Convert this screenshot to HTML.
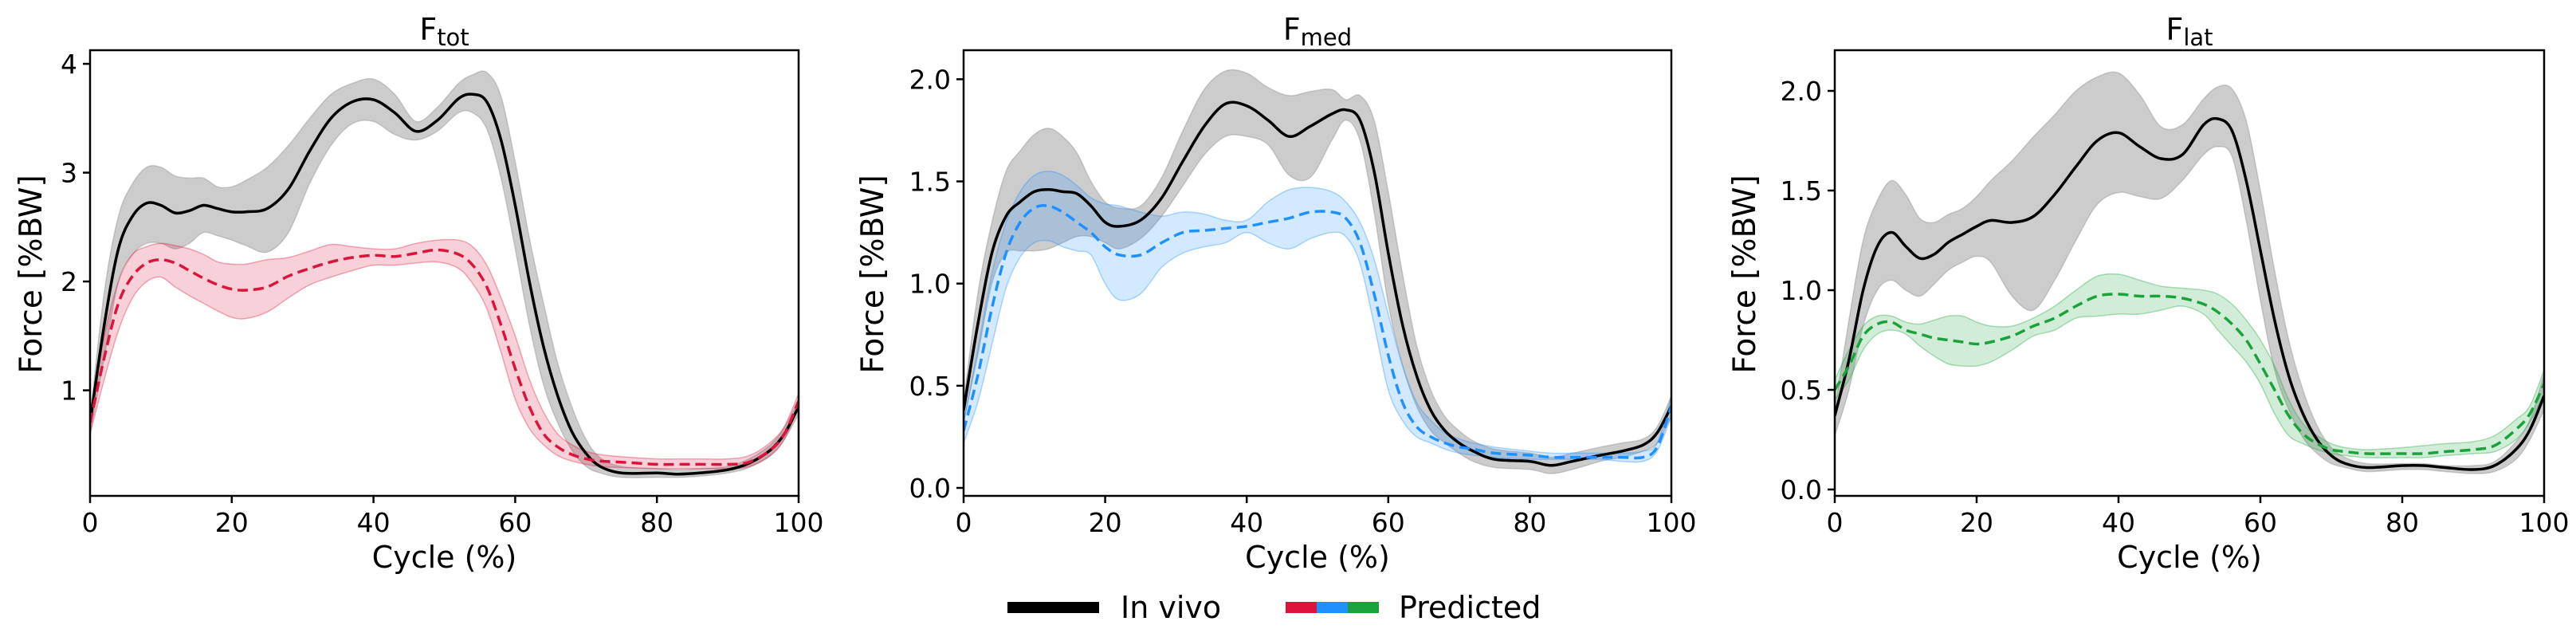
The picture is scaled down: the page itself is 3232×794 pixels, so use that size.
<!DOCTYPE html>
<html><head><meta charset="utf-8"><style>
html,body{margin:0;padding:0;background:#fff}
svg{display:block}
text{font-family:"DejaVu Sans","Liberation Sans",sans-serif;fill:#000}
</style></head><body>
<svg id="chart" width="3232" height="794" viewBox="0 0 3232 794" xmlns="http://www.w3.org/2000/svg"></svg>
<script>
const cycle = [0,2,4,6,8,10,12,14,16,18,20,22,25,28,31,34,37,40,43,46,49,52,54,56,58,60,62,64,66,68,70,72,75,80,83,86,90,93,96,98,100];
const xTicks = [0,20,40,60,80,100];
// Ftot
const totVivoMean = [0.7,1.6,2.3,2.6,2.72,2.7,2.63,2.65,2.7,2.67,2.64,2.64,2.67,2.85,3.2,3.5,3.65,3.67,3.55,3.38,3.48,3.68,3.72,3.65,3.3,2.7,2.0,1.4,0.95,0.62,0.42,0.3,0.24,0.24,0.23,0.24,0.27,0.33,0.45,0.6,0.85];
const totVivoHi = [0.75,1.9,2.6,2.9,3.05,3.05,2.97,2.95,2.95,2.87,2.87,2.93,3.05,3.25,3.5,3.72,3.82,3.86,3.72,3.47,3.6,3.82,3.9,3.92,3.7,3.1,2.4,1.8,1.25,0.85,0.55,0.38,0.3,0.28,0.27,0.28,0.3,0.37,0.5,0.66,0.92];
const totVivoLo = [0.6,1.3,2.0,2.25,2.35,2.35,2.3,2.35,2.45,2.42,2.38,2.33,2.27,2.45,2.9,3.25,3.45,3.47,3.35,3.3,3.38,3.55,3.55,3.4,2.95,2.3,1.6,1.05,0.7,0.45,0.3,0.24,0.2,0.2,0.2,0.21,0.24,0.29,0.4,0.55,0.78];
const totPredMean = [0.7,1.3,1.8,2.05,2.17,2.2,2.17,2.1,2.03,1.97,1.93,1.92,1.95,2.05,2.12,2.18,2.22,2.24,2.23,2.26,2.29,2.25,2.15,1.95,1.6,1.2,0.85,0.6,0.48,0.41,0.37,0.35,0.34,0.32,0.32,0.32,0.32,0.34,0.45,0.6,0.9];
const totPredHi = [0.8,1.5,2.0,2.25,2.32,2.35,2.33,2.3,2.25,2.18,2.16,2.16,2.2,2.22,2.28,2.34,2.32,2.3,2.3,2.35,2.38,2.38,2.32,2.15,1.85,1.5,1.1,0.8,0.6,0.5,0.44,0.41,0.39,0.37,0.37,0.37,0.37,0.4,0.52,0.67,0.97];
const totPredLo = [0.6,1.1,1.55,1.85,2.0,2.04,1.95,1.87,1.8,1.73,1.67,1.66,1.72,1.85,1.97,2.04,2.1,2.15,2.15,2.17,2.18,2.12,1.98,1.75,1.35,0.92,0.65,0.5,0.4,0.35,0.32,0.3,0.29,0.28,0.28,0.28,0.28,0.3,0.4,0.55,0.85];
const totYTicks = [1,2,3,4];
// Fmed
const medVivoMean = [0.38,0.8,1.15,1.33,1.4,1.45,1.46,1.45,1.44,1.38,1.3,1.28,1.31,1.42,1.6,1.77,1.88,1.87,1.8,1.72,1.77,1.83,1.85,1.8,1.55,1.15,0.8,0.55,0.38,0.28,0.22,0.18,0.14,0.13,0.11,0.13,0.16,0.18,0.21,0.27,0.4];
const medVivoHi = [0.42,0.95,1.3,1.55,1.65,1.73,1.76,1.72,1.64,1.5,1.4,1.37,1.38,1.52,1.75,1.95,2.04,2.03,1.96,1.92,1.94,1.95,1.9,1.92,1.8,1.45,1.05,0.7,0.48,0.35,0.28,0.23,0.19,0.17,0.15,0.17,0.2,0.22,0.24,0.3,0.45];
const medVivoLo = [0.32,0.65,1.0,1.15,1.16,1.16,1.17,1.2,1.23,1.23,1.2,1.17,1.22,1.33,1.48,1.63,1.72,1.72,1.68,1.53,1.52,1.7,1.8,1.7,1.35,0.9,0.6,0.4,0.28,0.22,0.17,0.13,0.1,0.09,0.07,0.09,0.13,0.15,0.18,0.22,0.35];
const medPredMean = [0.28,0.55,0.88,1.15,1.3,1.37,1.38,1.35,1.3,1.25,1.18,1.14,1.14,1.2,1.25,1.26,1.27,1.28,1.3,1.32,1.35,1.35,1.32,1.2,0.95,0.65,0.42,0.3,0.25,0.22,0.2,0.19,0.17,0.16,0.15,0.15,0.15,0.15,0.15,0.2,0.4];
const medPredHi = [0.32,0.68,1.05,1.3,1.45,1.53,1.55,1.53,1.48,1.42,1.39,1.38,1.35,1.33,1.35,1.34,1.31,1.31,1.4,1.46,1.47,1.45,1.4,1.3,1.12,0.85,0.6,0.42,0.33,0.27,0.24,0.22,0.2,0.18,0.17,0.17,0.17,0.17,0.18,0.22,0.45];
const medPredLo = [0.22,0.42,0.7,0.98,1.13,1.2,1.21,1.18,1.16,1.14,1.0,0.92,0.95,1.08,1.15,1.18,1.2,1.25,1.2,1.17,1.22,1.25,1.23,1.1,0.8,0.48,0.33,0.25,0.22,0.19,0.17,0.16,0.15,0.14,0.14,0.14,0.14,0.13,0.13,0.18,0.35];
const medYTicks = ["0.0","0.5","1.0","1.5","2.0"];
// Flat
const latVivoMean = [0.37,0.65,1.0,1.22,1.29,1.22,1.16,1.18,1.24,1.28,1.32,1.35,1.34,1.37,1.48,1.62,1.75,1.79,1.72,1.66,1.68,1.83,1.86,1.8,1.55,1.2,0.85,0.57,0.38,0.25,0.17,0.13,0.11,0.12,0.12,0.11,0.1,0.12,0.2,0.3,0.47];
const latVivoHi = [0.4,0.85,1.25,1.45,1.55,1.48,1.36,1.34,1.38,1.41,1.47,1.55,1.65,1.77,1.88,2.0,2.07,2.09,1.98,1.82,1.83,1.96,2.02,2.01,1.85,1.5,1.1,0.75,0.5,0.32,0.21,0.16,0.13,0.13,0.13,0.12,0.12,0.14,0.24,0.35,0.58];
const latVivoLo = [0.27,0.5,0.82,1.0,1.05,1.0,0.97,1.03,1.1,1.14,1.17,1.14,0.97,0.9,1.05,1.25,1.43,1.49,1.47,1.46,1.55,1.68,1.72,1.67,1.35,0.95,0.6,0.4,0.26,0.18,0.13,0.11,0.09,0.1,0.1,0.09,0.08,0.09,0.15,0.25,0.4];
const latPredMean = [0.5,0.62,0.77,0.83,0.84,0.8,0.78,0.76,0.75,0.74,0.73,0.74,0.77,0.82,0.86,0.92,0.97,0.98,0.97,0.97,0.96,0.93,0.89,0.83,0.75,0.63,0.5,0.37,0.28,0.23,0.2,0.19,0.18,0.18,0.18,0.19,0.2,0.22,0.3,0.38,0.53];
const latPredHi = [0.55,0.7,0.82,0.87,0.87,0.84,0.83,0.85,0.87,0.87,0.84,0.82,0.82,0.86,0.92,1.0,1.07,1.08,1.05,1.02,1.01,1.0,0.98,0.93,0.85,0.75,0.62,0.45,0.33,0.27,0.23,0.21,0.2,0.21,0.22,0.23,0.24,0.27,0.35,0.42,0.6];
const latPredLo = [0.45,0.55,0.7,0.78,0.8,0.78,0.72,0.67,0.63,0.62,0.62,0.64,0.7,0.77,0.8,0.86,0.87,0.88,0.88,0.9,0.92,0.88,0.8,0.72,0.64,0.53,0.38,0.27,0.23,0.2,0.18,0.17,0.16,0.16,0.16,0.17,0.18,0.19,0.25,0.34,0.48];
const latYTicks = ["0.0","0.5","1.0","1.5","2.0"];

const NS = "http://www.w3.org/2000/svg";
const svg = document.getElementById('chart');
function mk(tag, attrs, parent){ const e=document.createElementNS(NS,tag); for(const k in attrs) e.setAttribute(k,attrs[k]); (parent||svg).appendChild(e); return e; }

function smoothPath(pts, move){
  let d = (move?"M":"L")+pts[0][0].toFixed(1)+","+pts[0][1].toFixed(1);
  for(let i=0;i<pts.length-1;i++){
    const p0=pts[Math.max(0,i-1)],p1=pts[i],p2=pts[i+1],p3=pts[Math.min(pts.length-1,i+2)];
    const c1=[p1[0]+(p2[0]-p0[0])/6,p1[1]+(p2[1]-p0[1])/6];
    const c2=[p2[0]-(p3[0]-p1[0])/6,p2[1]-(p3[1]-p1[1])/6];
    d+="C"+c1[0].toFixed(1)+","+c1[1].toFixed(1)+" "+c2[0].toFixed(1)+","+c2[1].toFixed(1)+" "+p2[0].toFixed(1)+","+p2[1].toFixed(1);
  }
  return d;
}

function panel(cfg){
  const g = mk('g',{});
  
  
  const L=cfg.left,R=cfg.right,T=63,B=622;
  const xs=v=>L+(v/100)*(R-L);
  const ys=v=>B-(v-cfg.ymin)/(cfg.ymax-cfg.ymin)*(B-T);
  const clip = mk('clipPath',{id:cfg.name+'-clip'},g);
  mk('rect',{x:L,y:T,width:R-L,height:B-T},clip);
  const plot = mk('g',{'clip-path':'url(#'+cfg.name+'-clip)'},g);
  function band(lo,hi,fill,op,stroke,nm){
    const up=cycle.map((c,i)=>[xs(c),ys(hi[i])]);
    const dn=cycle.map((c,i)=>[xs(c),ys(lo[i])]).reverse();
    const p=mk('path',{d:smoothPath(up,true)+smoothPath(dn,false)+"Z",fill:fill,'fill-opacity':op,stroke:stroke,'stroke-opacity':0.35,'stroke-width':1.5},plot);
    
    
  }
  function line(m,color,dash,nm){
    const pts=cycle.map((c,i)=>[xs(c),ys(m[i])]);
    const a={d:smoothPath(pts,true),fill:'none',stroke:color,'stroke-width':3.5};
    if(dash) a['stroke-dasharray']='13,7';
    const p=mk('path',a,plot);
    
    
  }
  band(cfg.vLo,cfg.vHi,'#808080',0.4,'#808080','in-vivo-band');
  band(cfg.pLo,cfg.pHi,cfg.color,0.2,cfg.color,'predicted-band');
  line(cfg.vMean,'#000',false,'in-vivo-line');
  line(cfg.pMean,cfg.color,true,'predicted-line');
  const fr=mk('rect',{x:L,y:T,width:R-L,height:B-T,fill:'none',stroke:'#000','stroke-width':2.5},g);
  
  
  xTicks.forEach(t=>{
    mk('line',{x1:xs(t),x2:xs(t),y1:B,y2:B+9,stroke:'#000','stroke-width':2.5},g);
    const tx=mk('text',{x:xs(t),y:B+45,'text-anchor':'middle','font-size':33},g);
    tx.textContent=t;
    
    
  });
  cfg.yTicks.forEach(t=>{
    const v=parseFloat(t);
    mk('line',{x1:L-9,x2:L,y1:ys(v),y2:ys(v),stroke:'#000','stroke-width':2.5},g);
    const tx=mk('text',{x:L-16,y:ys(v)+12,'text-anchor':'end','font-size':33},g);
    tx.textContent=t;
    
    
  });
  const xl=mk('text',{x:(L+R)/2,y:712,'text-anchor':'middle','font-size':38},g);
  xl.textContent='Cycle (%)';
  
  
  const yl=mk('text',{x:cfg.ylx,y:344,'text-anchor':'middle','font-size':39,transform:'rotate(-90 '+cfg.ylx+' 344)'},g);
  yl.textContent='Force [%BW]';
  
  
  const ti=mk('text',{x:(L+R)/2,y:50,'text-anchor':'middle','font-size':38},g);
  ti.innerHTML='F<tspan font-size="29" dy="7">'+cfg.sub+'</tspan>';
  
  
}

panel({name:'panel-ftot',left:113,right:1002,ymin:0.03,ymax:4.125,yTicks:totYTicks,sub:'tot',ylx:52,color:'#dc143c',
  vMean:totVivoMean,vHi:totVivoHi,vLo:totVivoLo,pMean:totPredMean,pHi:totPredHi,pLo:totPredLo});
panel({name:'panel-fmed',left:1209,right:2097,ymin:-0.039,ymax:2.142,yTicks:medYTicks,sub:'med',ylx:1108,color:'#1e90ff',
  vMean:medVivoMean,vHi:medVivoHi,vLo:medVivoLo,pMean:medPredMean,pHi:medPredHi,pLo:medPredLo});
panel({name:'panel-flat',left:2302,right:3192,ymin:-0.032,ymax:2.204,yTicks:latYTicks,sub:'lat',ylx:2202,color:'#1aa33a',
  vMean:latVivoMean,vHi:latVivoHi,vLo:latVivoLo,pMean:latPredMean,pHi:latPredHi,pLo:latPredLo});

// legend
const lg=mk('g',{});


mk('rect',{x:1264,y:755,width:115,height:14,fill:'#000'},lg);
const t1=mk('text',{x:1406,y:775,'font-size':38},lg); t1.textContent='In vivo';


mk('rect',{x:1613,y:755,width:39,height:14,fill:'#dc143c'},lg);
mk('rect',{x:1652,y:755,width:39,height:14,fill:'#1e90ff'},lg);
mk('rect',{x:1691,y:755,width:39,height:14,fill:'#1aa33a'},lg);
const t2=mk('text',{x:1755,y:775,'font-size':38},lg); t2.textContent='Predicted';


</script>
</body></html>
